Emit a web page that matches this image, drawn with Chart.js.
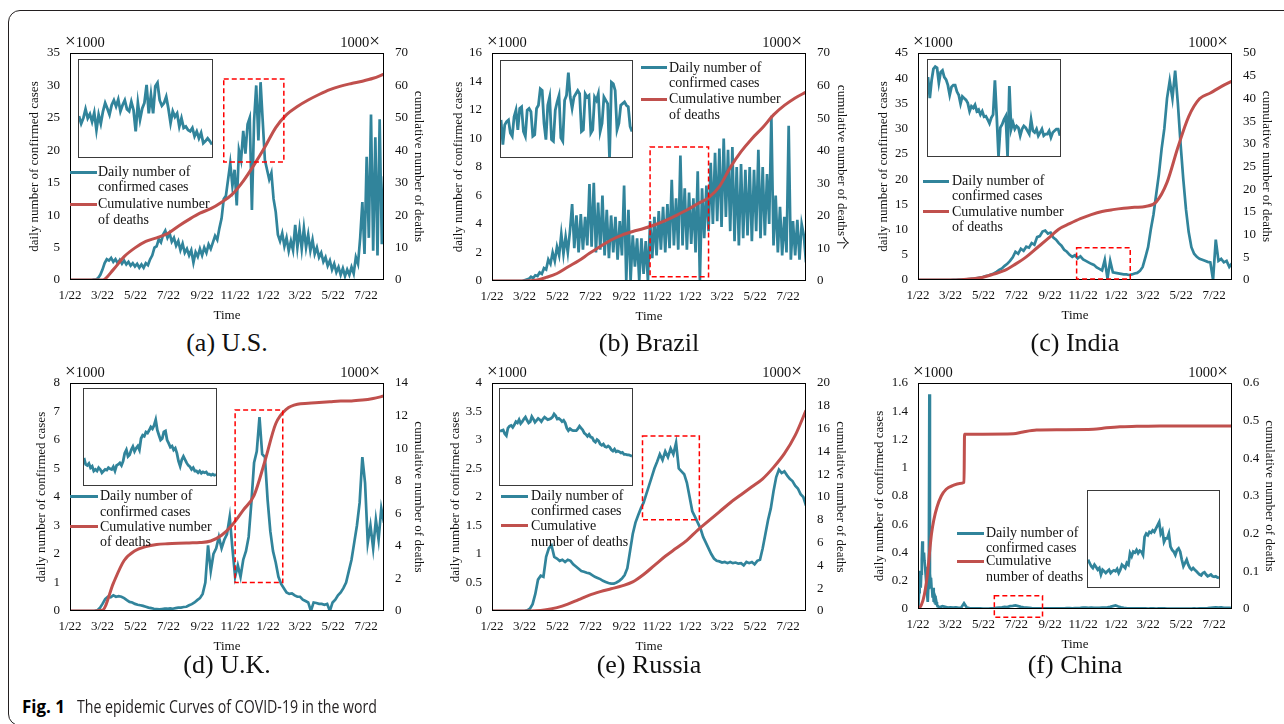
<!DOCTYPE html>
<html>
<head>
<meta charset="utf-8">
<title>The epidemic Curves of COVID-19 in the word</title>
<script src="https://cdn.jsdelivr.net/npm/chart.js@4.4.1/dist/chart.umd.min.js"></script>
<style>
  html, body { margin:0; padding:0; background:#fff; }
  body { position:relative; width:1284px; height:724px; overflow:hidden; color:#111;
         font-family:'Liberation Serif','Times New Roman',serif; }
  .frame { position:absolute; left:8px; top:10px; width:1400px; height:716px; box-sizing:border-box;
           border:1px solid #231f20; border-radius:12px 0 0 12px; }
  canvas.main { position:absolute; }
  .inset { position:absolute; box-sizing:border-box; border:1px solid #3a3a3a; background:#fff; }
  .inset canvas { display:block; }
  .t { position:absolute; white-space:nowrap; }
  .leg { font-size:14px; line-height:16px; height:16px; }
  .mult { font-size:14.5px; line-height:16px; height:16px; }
  .mult .x { font-size:19px; }
  .cap { font-size:26px; line-height:30px; height:30px; text-align:center; width:240px; }
  .sample { position:absolute; height:3px; }
  .fig { position:absolute; top:694px; font-family:'Open Sans','Noto Sans',sans-serif; font-size:18px;
         line-height:24px; transform-origin:0 50%; white-space:nowrap; color:#231f20; }
</style>
</head>
<body>
<div class="frame"></div>
<script>
// ---------------- data ----------------
const TICK_DAYS   = [0, 60, 121, 182, 244, 305, 366, 425, 486, 547];   // days since 2020-01-22
const TICK_LABELS = ['1/22','3/22','5/22','7/22','9/22','11/22','1/22','3/22','5/22','7/22'];
const X_MAX = 580;

// daily confirmed cases (x1000), one value every 4 days
const US_CASES = [
  0,0,0,0,0,0,0,0,0,0,
  0,0.05,0.1,0.3,0.8,1.6,2.6,3.2,3.0,3.4,
  2.8,3.2,2.6,3.1,2.5,3.0,2.4,2.8,2.2,2.6,
  2.1,2.5,1.9,2.4,1.9,2.6,2.3,3.2,3.8,5.0,
  5.2,6.3,5.8,7.0,7.6,6.5,7.2,5.9,6.5,5.3,
  6.0,4.6,5.6,4.2,4.8,3.8,4.6,2.7,4.3,3.6,
  4.8,3.8,5.0,4.2,5.5,4.8,5.8,6.8,6.2,8.0,
  9.5,12.5,13.0,15.5,18.0,14.5,17.0,11.5,20.0,18.5,
  23.0,19.5,24.0,25.0,10.8,24.5,30.0,21.5,30.5,24.5,
  18.5,17.0,15.5,16.5,12.5,10.5,7.0,6.0,7.2,5.2,
  6.5,4.5,6.0,4.6,8.5,5.0,7.8,4.8,8.0,5.0,
  7.0,4.5,6.2,4.0,5.0,3.5,4.2,2.8,3.5,2.2,
  3.0,1.6,2.5,1.2,2.0,0.8,1.8,0.6,1.6,0.8,
  2.0,1.0,3.5,2.5,6.5,12.0,4.0,19.0,6.5,25.5,
  4.5,22.0,3.8,24.8,5.5,16.0];
const BR_CASES = [
  0,0,0,0,0,0,0,0,0,0,
  0,0,0,0,0,0.05,0.1,0.15,0.3,0.2,
  0.4,0.35,0.6,0.5,0.9,0.8,1.5,1.2,2.0,1.4,
  2.4,1.8,3.3,1.9,3.1,2.0,3.5,5.4,2.3,4.6,
  2.0,4.7,2.2,4.5,2.5,6.8,2.4,6.9,2.0,5.5,
  2.2,6.0,1.8,5.0,1.6,4.6,2.0,4.5,1.5,4.2,
  1.8,6.7,0.0,5.0,0.0,3.2,1.0,3.0,0.0,3.0,
  0.5,2.8,0.0,4.2,1.6,4.5,1.8,4.9,2.2,5.2,
  2.0,5.4,2.3,7.1,2.5,5.8,2.2,8.8,2.5,6.5,
  2.2,6.2,2.6,5.8,2.0,7.7,0.0,6.5,3.0,6.7,
  3.5,8.3,4.0,9.0,4.2,9.3,3.8,10.0,4.5,9.2,
  3.5,9.4,2.8,8.0,2.5,8.2,3.0,7.8,3.2,8.0,
  2.8,7.8,3.5,9.2,3.0,8.0,3.2,7.5,4.0,11.6,
  2.5,6.0,2.0,5.2,1.8,4.5,2.0,10.9,1.5,4.2,
  1.8,4.3,1.5,4.0,3.2,1.3];
// one value every 5 days
const IN_CASES = [
  0,0,0,0,0,0,0,0,0,0,
  0,0,0,0.02,0.05,0.08,0.1,0.12,0.15,0.2,
  0.25,0.3,0.4,0.5,0.6,0.8,0.9,1.1,1.3,1.6,
  2.0,2.3,2.8,3.2,3.8,4.5,5.6,5.2,6.2,5.8,
  6.6,6.4,7.3,7.0,8.5,8.7,9.6,9.8,9.2,9.4,
  8.4,8.0,7.3,6.8,6.0,5.6,5.0,4.6,4.9,4.3,
  4.7,4.1,3.8,3.5,3.2,3.0,2.5,2.2,1.9,4.0,
  0.3,3.8,1.5,1.4,1.3,1.2,1.1,1.1,1.0,1.1,
  1.3,1.4,1.8,2.6,4.5,6.5,10,13,17,21,
  26,30,36,39.5,36,41.5,35,27,20,14,
  9.5,6.5,5.2,4.6,4.2,4.0,3.8,3.6,3.5,0,
  8.0,3.8,4.2,3.5,3.8,2.6,3.3];
const UK_CASES = [
  0,0,0,0,0,0,0,0,0,0,
  0.02,0.1,0.25,0.42,0.5,0.48,0.55,0.5,0.52,0.5,
  0.45,0.38,0.32,0.3,0.25,0.22,0.2,0.18,0.15,0.12,
  0.1,0.08,0.07,0.06,0.07,0.08,0.08,0.09,0.08,0.1,
  0.12,0.12,0.14,0.15,0.2,0.24,0.3,0.38,0.45,0.6,
  1.0,2.3,1.4,2.0,2.2,2.6,2.2,2.5,2.7,3.3,
  2.2,1.2,1.6,1.2,1.8,2.1,2.6,3.8,5.2,5.6,
  6.8,5.5,5.4,3.9,2.8,2.1,1.7,1.2,0.95,0.8,
  0.65,0.6,0.62,0.55,0.5,0.5,0.4,0.35,0.3,0.0,
  0.3,0.28,0.25,0.25,0.22,0.25,0.0,0.3,0.4,0.55,
  0.65,0.8,1.0,1.4,1.8,2.4,3.0,3.8,5.4,4.5,
  2.4,3.0,2.2,3.2,2.5,3.6,3.1];
const RU_CASES = [
  0,0,0,0,0,0,0,0,0,0,
  0,0,0,0.01,0.04,0.12,0.3,0.55,0.62,0.6,
  0.95,1.1,1.15,0.95,0.92,0.88,0.9,0.86,0.9,0.88,
  0.82,0.78,0.74,0.7,0.69,0.67,0.66,0.63,0.6,0.58,
  0.56,0.53,0.51,0.49,0.48,0.48,0.5,0.53,0.57,0.63,
  0.75,1.05,1.35,1.55,1.68,1.8,1.9,2.05,2.2,2.35,
  2.5,2.62,2.75,2.65,2.8,2.7,2.85,2.75,2.95,2.5,
  2.45,2.4,2.25,2.0,1.75,1.65,1.55,1.45,1.3,1.2,
  1.1,1.0,0.92,0.88,0.87,0.85,0.86,0.84,0.86,0.84,
  0.85,0.83,0.84,0.8,0.86,0.84,0.86,0.82,0.88,0.9,
  1.1,1.35,1.6,1.8,2.1,2.35,2.48,2.42,2.45,2.38,
  2.32,2.28,2.2,2.15,2.05,2.0,1.85];
// China: daily for days 0-40, then every 5 days from day 45
const CN_CASES_EARLY = [
  0.02,0.05,0.12,0.27,0.2,0.15,0.25,0.35,0.48,0.4,
  0.36,0.4,0.34,0.3,0.25,0.2,0.22,0.1,0.05,0.15,
  0.3,1.52,0.25,0.2,0.22,0.15,0.14,0.08,0.15,0.05,
  0.07,0.04,0.06,0.03,0.05,0.03,0.02,0.02,0.02,0.01,0.01];
const CN_CASES_LATE = [
  0.02,0.015,0.01,0.012,0.01,0.012,0.008,0.01,0.04,0.01,
  0.006,0.005,0.005,0.004,0.004,0.003,0.003,0.003,0.004,0.005,
  0.008,0.01,0.012,0.015,0.014,0.02,0.022,0.025,0.02,0.015,
  0.012,0.01,0.008,0.006,0.005,0.005,0.005,0.004,0.004,0.004,
  0.005,0.004,0.005,0.004,0.005,0.005,0.006,0.006,0.005,0.006,
  0.007,0.008,0.01,0.01,0.009,0.01,0.009,0.008,0.009,0.01,
  0.01,0.012,0.015,0.02,0.025,0.018,0.012,0.008,0.006,0.005,
  0.005,0.004,0.004,0.004,0.004,0.004,0.003,0.004,0.004,0.003,
  0.004,0.004,0.004,0.003,0.003,0.003,0.003,0.003,0.003,0.003,
  0.003,0.003,0.003,0.004,0.003,0.004,0.004,0.005,0.006,0.008,
  0.01,0.012,0.01,0.011,0.009,0.008,0.008,0.007];

// cumulative deaths (x1000), one value every 20 days
const US_DEATHS = [0,0,0,0,3.2,7.2,9.9,11.9,13.0,14.3,16.6,18.7,20.6,22.0,24.0,26.5,30.5,35.5,41.0,47.0,51.0,53.5,55.5,57.2,58.7,59.8,60.6,61.3,62.2,63.5];
const BR_DEATHS = [0,0,0,0,0.2,1.1,2.3,4.3,6.2,8.5,10.6,12.6,14.1,15.2,16.1,17.2,18.5,20.1,21.8,23.7,25.6,29.0,34.8,39.7,43.7,47.1,51.0,53.9,56.2,58.0];
const IN_DEATHS = [0,0,0,0,0.05,0.25,0.6,1.3,2.1,3.5,5.1,7.1,9.1,11.2,12.4,13.5,14.4,15.1,15.5,15.8,16.0,16.2,17.2,21.5,29.2,36.0,39.9,41.2,42.6,43.8];
const UK_DEATHS = [0,0,0,0.05,1.7,3.1,3.7,3.95,4.08,4.13,4.16,4.18,4.2,4.3,4.65,5.3,6.2,7.1,9.2,11.5,12.4,12.7,12.75,12.8,12.85,12.9,12.9,12.95,13.05,13.2];
const RU_DEATHS = [0,0,0,0,0.02,0.12,0.3,0.6,1.0,1.4,1.7,1.95,2.2,2.55,3.2,4.0,4.8,5.5,6.2,7.1,7.9,8.7,9.5,10.2,10.9,11.6,12.6,13.8,15.4,17.6];
const CN_DEATH_DAYS = [0,6,12,18,22,25,29,35,43,52,65,77,85,86,120,176,194,219,262,324,348,373,404,447,500,580];
const CN_DEATHS = [0,0.01,0.04,0.1,0.16,0.2,0.235,0.27,0.3,0.318,0.328,0.333,0.336,0.464,0.464,0.465,0.47,0.475,0.476,0.477,0.481,0.484,0.485,0.486,0.486,0.486];

// highlighted windows [dayFrom, dayTo, casesFrom, casesTo]
const BOX_US = [284, 395, 18.2, 31.0];
const BOX_BR = [292, 400, 0.3, 9.4];
const BOX_IN = [293, 392, 0.2, 6.4];
const BOX_UK = [305, 393, 1.0, 7.05];
const BOX_RU = [278, 383, 1.6, 3.07];
const BOX_CN = [141, 230, -0.059, 0.094];

// zoomed detail curves shown in the insets
const INSET_US = [23.9,22.8,23.6,24.9,23.6,24.2,23.1,24.4,21.9,24.1,22.8,24.6,25.8,25.0,24.1,25.5,26.2,25.3,26.3,24.6,25.5,26.2,24.9,24.6,26.0,24.8,21.7,25.8,23.4,25.0,25.8,28.4,24.3,27.0,24.3,28.2,28.7,26.2,25.4,25.8,26.7,25.0,22.9,24.6,23.8,24.3,22.4,23.6,22.2,22.4,21.9,21.7,22.2,21.0,21.7,20.7,21.5,20.0,20.3,20.7,20.3,19.8];
const INSET_BR = [4.70,2.91,4.34,4.58,4.70,3.74,3.51,4.94,5.42,3.98,5.54,5.66,3.86,3.51,5.42,5.54,5.30,3.51,3.62,5.54,5.77,6.97,6.85,4.46,3.27,5.77,6.37,3.27,3.15,5.42,6.01,6.49,3.39,3.15,6.13,6.49,8.16,6.37,5.54,6.37,6.61,6.85,6.61,3.86,3.98,6.61,6.37,6.49,3.74,3.98,6.37,6.13,6.61,3.86,4.46,6.37,6.13,5.89,1.9,7.45,7.33,6.85,3.98,4.46,5.77,5.89,6.01,5.77,5.66,4.22,3.86];
const INSET_IN = [3.70,2.71,3.55,4.09,4.19,4.13,3.43,3.93,4.01,3.70,3.58,3.32,2.86,3.24,3.32,3.32,3.02,2.86,2.45,2.79,2.71,2.63,2.48,2.10,2.33,2.25,2.40,2.10,2.17,1.94,2.10,1.84,1.87,1.71,1.53,1.79,1.94,3.55,1.87,0,1.33,1.48,1.71,1.87,0,3.28,1.26,1.56,1.26,1.41,1.33,0.95,1.26,1.41,1.33,1.18,1.03,1.71,1.18,1.10,1.26,0.95,1.10,1.26,0.95,1.03,1.03,1.18,0.87,1.10,1.18,1.26,1.26,0.95];
const INSET_UK = [3.41,3.07,3.02,3.12,2.90,2.98,2.73,2.81,2.73,2.90,2.81,2.64,2.73,2.81,2.78,2.90,2.85,2.81,2.95,2.73,3.02,3.07,3.15,3.02,3.24,3.66,3.83,3.49,3.58,3.83,4.00,3.75,3.92,4.03,3.83,4.42,4.59,4.54,4.76,4.71,4.85,5.02,4.93,5.10,5.39,4.85,4.59,4.34,4.42,4.76,4.81,4.34,4.17,3.97,4.03,3.83,3.92,3.66,3.24,2.98,3.32,3.49,3.32,3.15,3.02,2.95,2.81,2.90,2.73,2.73,2.64,2.73,2.61,2.68,2.64,2.68,2.56,2.56,2.51,2.56,2.51,2.54];
const INSET_RU = [2.34,2.35,2.36,2.30,2.27,2.39,2.42,2.43,2.40,2.44,2.49,2.47,2.52,2.46,2.49,2.53,2.56,2.51,2.47,2.49,2.57,2.53,2.48,2.51,2.54,2.52,2.49,2.53,2.56,2.54,2.52,2.53,2.54,2.56,2.61,2.58,2.53,2.54,2.52,2.49,2.51,2.47,2.39,2.35,2.38,2.36,2.35,2.35,2.35,2.38,2.42,2.39,2.36,2.31,2.29,2.26,2.29,2.25,2.24,2.19,2.17,2.21,2.19,2.14,2.12,2.14,2.10,2.09,2.11,2.09,2.05,2.03,2.06,2.02,2.03,2.02,2.00,2.01,1.98,1.98,1.97,1.97,1.96,1.95];
const INSET_CN = [14.2,12.5,10.8,9.9,11.6,10.4,9.0,9.9,6.5,9.0,8.2,7.3,8.2,9.0,7.3,8.2,8.7,8.2,9.4,7.3,9.0,11.6,10.8,9.9,12.5,11.6,17.6,15.9,18.4,17.9,19.3,17.6,18.9,18.4,16.7,26.1,27.8,27.0,28.7,28.2,29.5,28.7,30.4,32.1,33.8,27.8,29.5,23.5,25.3,25.3,27.8,21.0,19.3,18.4,16.7,19.3,20.1,18.4,14.2,10.8,12.5,14.2,11.6,9.9,9.0,9.9,9.0,8.2,7.3,6.5,6.0,7.3,7.7,6.5,5.6,6.0,6.5,5.6,5.3,5.6,5.0,4.8];
const INSET_US_RANGE = [18, 32];
const INSET_BR_RANGE = [2, 9];
const INSET_IN_RANGE = [0, 4.5];
const INSET_UK_RANGE = [2, 7];
const INSET_RU_RANGE = [1.5, 3.0];
const INSET_CN_RANGE = [0, 50];

const LEFT_TITLE = 'daily number of confirmed cases';
const RIGHT_TITLE = 'cumulative number of deaths';
const RIGHT_TITLE_BR = 'cumulative number of deaths个';
const LEGEND_TEXT = ['Daily number of', 'confirmed cases', 'Cumulative number', 'of deaths'];
const LEGEND_TEXT_ALT = ['Daily number of', 'confirmed cases', 'Cumulative', 'number of deaths'];

// ---------------- style / layout ----------------
const TEAL = '#31849B', RED = '#C0504D';
const SERIF = "'Liberation Serif','Times New Roman','Noto Sans CJK SC',serif";
const PLOT_W = 314, PAD_L = 70, PAD_R = 62, PAD_T = 30, PAD_B = 48;

function pts(values, step, start) { return values.map((v, i) => ({x: (start || 0) + i * step, y: v})); }
function ptsXY(days, values) { return values.map((v, i) => ({x: days[i], y: v})); }
const fmt = v => String(Math.round(v * 100) / 100);

const PANELS = [
  {caption:'(a) U.S.', left:70, top:53, h:227, cases:pts(US_CASES,4), deaths:pts(US_DEATHS,20),
   yMax:35, yStep:5, y2Max:70, y2Step:10, box:BOX_US, rightTitle:RIGHT_TITLE, ltPad:27, rtPad:20,
   inset:{x:78,y:59,w:135,h:99,data:INSET_US,range:INSET_US_RANGE},
   legend:{sx0:70,sx1:97,tx:98,ys:[172,187.5,204,220],texts:LEGEND_TEXT}},
  {caption:'(b) Brazil', left:492, top:53, h:228, cases:pts(BR_CASES,4), deaths:pts(BR_DEATHS,20),
   yMax:16, yStep:2, y2Max:70, y2Step:10, box:BOX_BR, rightTitle:RIGHT_TITLE_BR, ltPad:28.5, rtPad:18.5,
   inset:{x:500,y:60,w:133,h:98,data:INSET_BR,range:INSET_BR_RANGE},
   legend:{sx0:641,sx1:667,tx:669,ys:[67.7,83.3,99.3,115],texts:LEGEND_TEXT}},
  {caption:'(c) India', left:918, top:53, h:227, cases:pts(IN_CASES,5), deaths:pts(IN_DEATHS,20),
   yMax:45, yStep:5, y2Max:50, y2Step:5, box:BOX_IN, rightTitle:RIGHT_TITLE, ltPad:28.2, rtPad:19.9,
   inset:{x:927,y:59,w:134,h:98,data:INSET_IN,range:INSET_IN_RANGE},
   legend:{sx0:923,sx1:949,tx:952,ys:[181,196,211.7,226.7],texts:LEGEND_TEXT}},
  {caption:'(d) U.K.', left:70, top:383, h:228, cases:pts(UK_CASES,5), deaths:pts(UK_DEATHS,20),
   yMax:8, yStep:1, y2Max:14, y2Step:2, box:BOX_UK, rightTitle:RIGHT_TITLE, ltPad:33.9, rtPad:19.9,
   inset:{x:83,y:388,w:134,h:98,data:INSET_UK,range:INSET_UK_RANGE},
   legend:{sx0:70,sx1:98,tx:100,ys:[496,511.7,526.7,541.7],texts:LEGEND_TEXT}},
  {caption:'(e) Russia', left:492, top:383, h:228, cases:pts(RU_CASES,5), deaths:pts(RU_DEATHS,20),
   yMax:4, yStep:0.5, y2Max:20, y2Step:2, box:BOX_RU, rightTitle:RIGHT_TITLE, ltPad:25.5, rtPad:20.2,
   inset:{x:499,y:388,w:134,h:98,data:INSET_RU,range:INSET_RU_RANGE},
   legend:{sx0:501,sx1:528,tx:531,ys:[496,511,525.7,541.7],texts:LEGEND_TEXT_ALT}},
  {caption:'(f) China', left:918, top:383, h:226,
   cases:pts(CN_CASES_EARLY,1).concat(pts(CN_CASES_LATE,5,45)), deaths:ptsXY(CN_DEATH_DAYS, CN_DEATHS),
   yMax:1.6, yStep:0.2, y2Max:0.6, y2Step:0.1, box:BOX_CN, rightTitle:RIGHT_TITLE, ltPad:23.9, rtPad:16.6,
   inset:{x:1087,y:490,w:133,h:98,data:INSET_CN,range:INSET_CN_RANGE},
   legend:{sx0:957,sx1:984,tx:986,ys:[533.3,548.3,561.5,576.7],texts:LEGEND_TEXT_ALT}}
];

const panelDeco = {
  id: 'panelDeco',
  afterDatasetsDraw(chart, args, opts) {
    const {ctx, chartArea: a, scales} = chart;
    ctx.save();
    ctx.strokeStyle = '#000'; ctx.lineWidth = 1;
    ctx.strokeRect(Math.round(a.left) + 0.5, Math.round(a.top) + 0.5,
                   Math.round(a.right - a.left) - 1, Math.round(a.bottom - a.top) - 1);
    if (opts && opts.box) {
      const [x0, x1, y0, y1] = opts.box;
      const X0 = scales.x.getPixelForValue(x0), X1 = scales.x.getPixelForValue(x1);
      const Y0 = scales.y.getPixelForValue(y0), Y1 = scales.y.getPixelForValue(y1);
      ctx.strokeStyle = '#FF0000'; ctx.lineWidth = 1.5; ctx.setLineDash([5, 3]);
      ctx.strokeRect(X0, Y1, X1 - X0, Y0 - Y1);
    }
    ctx.restore();
  }
};

function addText(cls, text, left, top, extra) {
  const d = document.createElement('div');
  d.className = 't ' + cls; d.textContent = text;
  d.style.left = left + 'px'; d.style.top = top + 'px';
  if (extra) Object.assign(d.style, extra);
  document.body.appendChild(d);
  return d;
}
function addMult(xFirst, left, top, extra) {
  const d = document.createElement('div');
  d.className = 't mult';
  const x = document.createElement('span'); x.className = 'x'; x.textContent = '×';
  const n = document.createTextNode('1000');
  if (xFirst) { d.appendChild(x); d.appendChild(n); } else { d.appendChild(n); d.appendChild(x); }
  d.style.left = left + 'px'; d.style.top = top + 'px';
  if (extra) Object.assign(d.style, extra);
  document.body.appendChild(d);
}

function makePanel(p) {
  const W = PLOT_W + PAD_L + PAD_R, H = p.h + PAD_T + PAD_B;
  const c = document.createElement('canvas');
  c.className = 'main'; c.width = W; c.height = H;
  c.style.left = (p.left - PAD_L) + 'px'; c.style.top = (p.top - PAD_T) + 'px';
  c.style.width = W + 'px'; c.style.height = H + 'px';
  document.body.appendChild(c);
  const tickFont = {family: SERIF, size: 13};
  const titleFont = {family: SERIF, size: 13};
  new Chart(c, {
    type: 'line',
    data: {datasets: [
      {label: 'Cumulative number of deaths', data: p.deaths, yAxisID: 'y2', borderColor: RED,
       borderWidth: 3, pointRadius: 0, tension: 0.4, cubicInterpolationMode: 'monotone', order: 0},
      {label: 'Daily number of confirmed cases', data: p.cases, yAxisID: 'y', borderColor: TEAL,
       borderWidth: 2.7, pointRadius: 0, tension: 0, order: 1}
    ]},
    options: {
      responsive: false, animation: false, devicePixelRatio: 1, events: [],
      layout: {padding: {top: PAD_T, left: 0, right: 0, bottom: 0}},
      plugins: {legend: {display: false}, tooltip: {enabled: false}, panelDeco: {box: p.box}},
      scales: {
        x: {type: 'linear', position: 'bottom', min: 0, max: X_MAX,
            grid: {display: false, drawTicks: false}, border: {display: false},
            afterBuildTicks: s => { s.ticks = TICK_DAYS.map(v => ({value: v})); },
            afterFit: s => { s.height = PAD_B; },
            ticks: {autoSkip: false, maxRotation: 0, minRotation: 0, padding: 8, color: '#111',
                    font: tickFont, callback: (v, i) => TICK_LABELS[i]},
            title: {display: true, text: 'Time', color: '#111', font: titleFont, padding: {top: 0, bottom: 4.5}}},
        y: {type: 'linear', position: 'left', min: 0, max: p.yMax,
            grid: {display: false, drawTicks: false}, border: {display: false},
            afterFit: s => { s.width = PAD_L; },
            ticks: {stepSize: p.yStep, padding: 10, color: '#111', font: tickFont, callback: fmt},
            title: {display: true, text: LEFT_TITLE, color: '#111', font: titleFont, padding: {top: p.ltPad, bottom: 0}}},
        y2: {type: 'linear', position: 'right', min: 0, max: p.y2Max,
             grid: {display: false, drawTicks: false}, border: {display: false},
             afterFit: s => { s.width = PAD_R; },
             ticks: {stepSize: p.y2Step, padding: 11, color: '#111', font: tickFont, callback: fmt},
             title: {display: true, text: p.rightTitle, color: '#111', font: titleFont, padding: {top: p.rtPad, bottom: 0}}}
      }
    },
    plugins: [panelDeco]
  });

  // inset
  const ins = p.inset;
  const box = document.createElement('div');
  box.className = 'inset';
  Object.assign(box.style, {left: ins.x + 'px', top: ins.y + 'px', width: ins.w + 'px', height: ins.h + 'px'});
  const ic = document.createElement('canvas');
  ic.width = ins.w - 2; ic.height = ins.h - 2;
  ic.style.width = (ins.w - 2) + 'px'; ic.style.height = (ins.h - 2) + 'px';
  box.appendChild(ic); document.body.appendChild(box);
  new Chart(ic, {
    type: 'line',
    data: {datasets: [{data: ins.data.map((v, i) => ({x: i, y: v})), borderColor: TEAL, borderWidth: 2.8,
                       pointRadius: 0, tension: 0}]},
    options: {responsive: false, animation: false, devicePixelRatio: 1, events: [],
              layout: {padding: 0},
              plugins: {legend: {display: false}, tooltip: {enabled: false}},
              scales: {x: {type: 'linear', display: false, min: 0, max: ins.data.length - 1},
                       y: {type: 'linear', display: false, min: ins.range[0], max: ins.range[1]}}}
  });

  // legend
  const lg = p.legend;
  const s1 = document.createElement('div'); s1.className = 'sample';
  Object.assign(s1.style, {left: lg.sx0 + 'px', top: (lg.ys[0] - 1.5) + 'px', width: (lg.sx1 - lg.sx0) + 'px', background: TEAL});
  const s2 = document.createElement('div'); s2.className = 'sample';
  Object.assign(s2.style, {left: lg.sx0 + 'px', top: (lg.ys[2] - 1.5) + 'px', width: (lg.sx1 - lg.sx0) + 'px', background: RED});
  document.body.appendChild(s1); document.body.appendChild(s2);
  lg.texts.forEach((t, i) => addText('leg', t, lg.tx, lg.ys[i] - 8.2));

  // multipliers
  addMult(true, p.left - 5, p.top - 11.3 - 9);
  addMult(false, p.left + PLOT_W - 68, p.top - 11.3 - 9, {width: '64px', textAlign: 'right'});

  // caption
  const cy = p.top < 200 ? 345 : 667;
  addText('cap', p.caption, p.left + PLOT_W / 2 - 120, cy - 17.3);
}

PANELS.forEach(makePanel);

// figure caption
const f1 = document.createElement('span'); f1.className = 'fig'; f1.style.left = '22px';
f1.style.fontWeight = '700'; f1.style.color = '#000'; f1.textContent = 'Fig. 1';
const f2 = document.createElement('span'); f2.className = 'fig'; f2.style.left = '77px';
f2.textContent = 'The epidemic Curves of COVID-19 in the word';
document.body.appendChild(f1); document.body.appendChild(f2);
function fitWidth(el, target) { const w = el.getBoundingClientRect().width; if (w > 0) el.style.transform = 'scaleX(' + (target / w) + ')'; }
fitWidth(f1, 43); fitWidth(f2, 300);
</script>
</body>
</html>
